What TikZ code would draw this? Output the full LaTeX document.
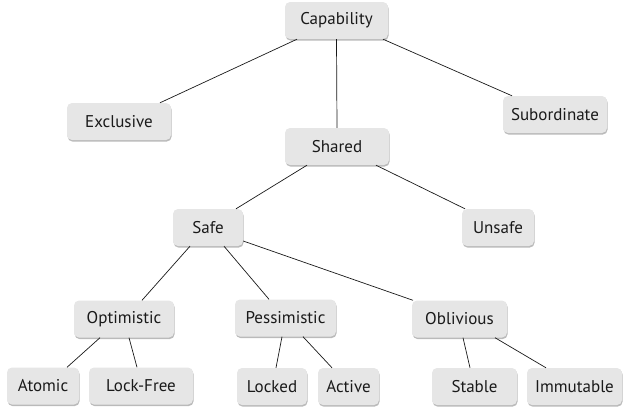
\documentclass[tikz,border=0pt]{standalone}
\usepackage{fontspec}
\setmainfont{PT Sans}
\usetikzlibrary{shadows}
\definecolor{boxfill}{HTML}{E6E6E6}
\definecolor{txt}{HTML}{1A1A1A}
\tikzset{
  cat/.style={fill=boxfill, rounded corners=5pt, minimum height=37pt, inner sep=0pt,
    text=txt, font=\fontsize{17}{19}\selectfont,
    drop shadow={shadow xshift=0.6pt, shadow yshift=-1.6pt, opacity=0.45, fill=black!60}},
  link/.style={draw=black!90, line width=0.7pt}
}
\begin{document}
\begin{tikzpicture}[x=1pt,y=-1pt]
\useasboundingbox (0,0) rectangle (624,410);
\node[cat, minimum width=103pt] (cap) at (336.5,20.5) {Capability};
\node[cat, minimum width=104pt] (excl) at (119,121.5) {Exclusive};
\node[cat, minimum width=104pt] (sub) at (555,114.5) {Subordinate};
\node[cat, minimum width=104pt] (shared) at (337,146.5) {Shared};
\node[cat, minimum width=70pt] (safe) at (208,227.5) {Safe};
\node[cat, minimum width=72pt] (unsafe) at (498,227.5) {Unsafe};
\node[cat, minimum width=100pt] (opt) at (124,319) {Optimistic};
\node[cat, minimum width=101pt] (pess) at (285.5,318) {Pessimistic};
\node[cat, minimum width=95pt] (obl) at (459.5,319) {Oblivious};
\node[cat, minimum width=72pt] (atomic) at (43,386) {Atomic};
\node[cat, minimum width=104pt] (lockfree) at (141,386) {Lock-Free};
\node[cat, minimum width=70pt] (locked) at (272,386.5) {Locked};
\node[cat, minimum width=61pt] (active) at (348.5,386.5) {Active};
\node[cat, minimum width=85pt] (stable) at (474.5,386.5) {Stable};
\node[cat, minimum width=95pt] (immut) at (574.5,386.5) {Immutable};

\draw[link] ([xshift=-39.5pt]cap.south) -- ([xshift=41pt]excl.north);
\draw[link] (cap.south) -- (shared.north);
\draw[link] ([xshift=46.5pt]cap.south) -- ([xshift=-43pt]sub.north);
\draw[link] ([xshift=-30pt]shared.south) -- ([xshift=28pt]safe.north);
\draw[link] ([xshift=39pt]shared.south) -- ([xshift=-33pt]unsafe.north);
\draw[link] ([xshift=-18pt]safe.south) -- ([xshift=18pt]opt.north);
\draw[link] ([xshift=16pt]safe.south) -- ([xshift=-16.5pt]pess.north);
\draw[link] ([yshift=-13.5pt]safe.east) -- ([xshift=-46.5pt]obl.north);
\draw[link] ([xshift=-24pt]opt.south) -- ([xshift=24pt]atomic.north);
\draw[link] ([xshift=5pt]opt.south) -- ([xshift=-4pt]lockfree.north);
\draw[link] ([xshift=-3.5pt]pess.south) -- ([xshift=4pt]locked.north);
\draw[link] ([xshift=17.5pt]pess.south) -- ([xshift=-16.5pt]active.north);
\draw[link] ([xshift=3.5pt]obl.south) -- ([xshift=-4.5pt]stable.north);
\draw[link] ([xshift=35.5pt]obl.south) -- ([xshift=-28.5pt]immut.north);
\end{tikzpicture}
\end{document}
